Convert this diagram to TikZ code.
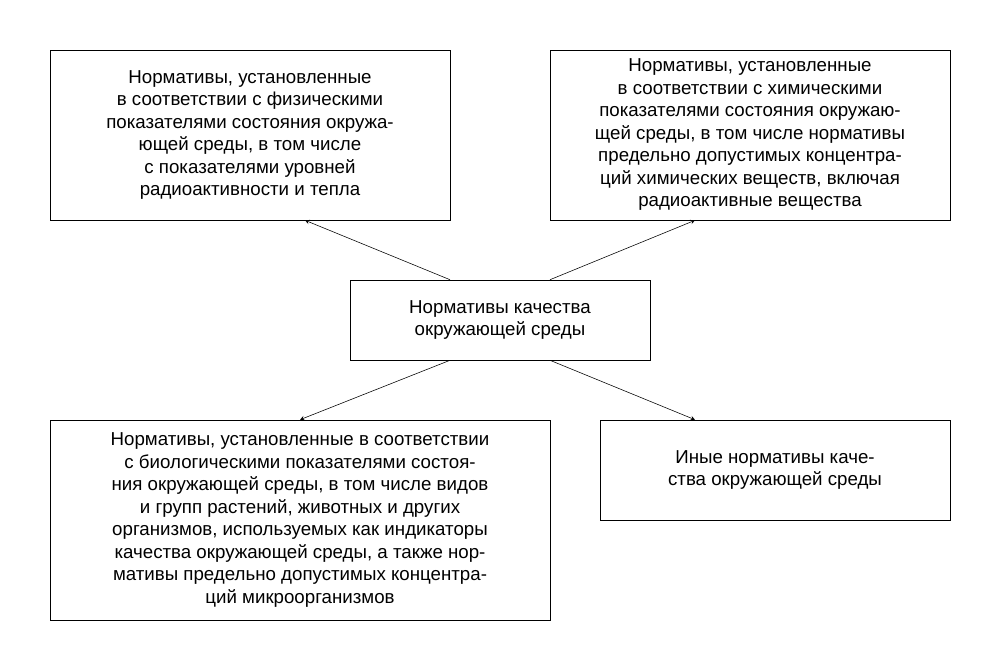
\documentclass[tikz,border=0pt]{standalone}
\usepackage{fontspec}
\setmainfont{Liberation Sans}
\usetikzlibrary{positioning}
\begin{document}
\begin{tikzpicture}[
   x=0.025cm,y=-0.025cm,
   font=\fontsize{13.3}{16}\selectfont,
   box/.style={draw,thin,align=center,inner sep=0pt},
   to/.style={-stealth,thin}]
\useasboundingbox (0,0) rectangle (1000,650);
\node[box,minimum width=10cm,minimum height=4.25cm] (phys) at (250,135)
  {Нормативы, установленные\\в соответствии с физическими\\показателями состояния окружа-\\ющей среды, в том числе\\с показателями уровней\\радиоактивности и тепла};
\node[box,minimum width=10cm,minimum height=4.25cm] (chem) at (750,135)
  {Нормативы, установленные\\в соответствии с химическими\\показателями состояния окружаю-\\щей среды, в том числе нормативы\\предельно допустимых концентра-\\ций химических веществ, включая\\радиоактивные вещества};
\node[box,minimum width=7.5cm,minimum height=2cm] (main) at (500,320)
  {Нормативы качества\\окружающей среды};
\node[box,minimum width=12.5cm,minimum height=5cm] (bio) at (300,520)
  {Нормативы, установленные в соответствии\\с биологическими показателями состоя-\\ния окружающей среды, в том числе видов\\и групп растений, животных и других\\организмов, используемых как индикаторы\\качества окружающей среды, а также нор-\\мативы предельно допустимых концентра-\\ций микроорганизмов};
\node[box,minimum width=8.75cm,minimum height=2.5cm] (other) at (775,470)
  {Иные нормативы каче-\\ства окружающей среды};
% arrows from the centre box
\draw[to] ([xshift=-1.25cm]main.north) -- ([xshift=1.375cm]phys.south);
\draw[to] ([xshift=1.25cm]main.north) -- ([xshift=-1.375cm]chem.south);
\draw[to] ([xshift=-1.25cm]main.south) -- (bio.north);
\draw[to] ([xshift=1.25cm]main.south) -- ([xshift=-2cm]other.north);
\end{tikzpicture}
\end{document}
